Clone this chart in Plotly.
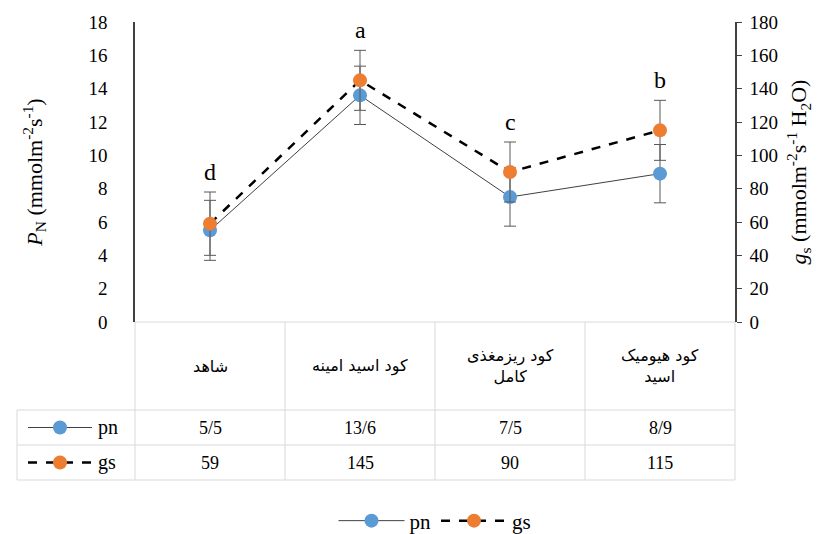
import plotly.graph_objects as go

categories = ["شاهد", "کود اسید امینه", "کود ریزمغذی<br>کامل", "کود هیومیک<br>اسید"]
pn_values = [5.5, 13.6, 7.5, 8.9]
pn_err = [1.8, 1.75, 1.75, 1.75]
gs_values = [59, 145, 90, 115]
gs_err = [19, 18, 18, 18]
letters = ["d", "a", "c", "b"]
series_names = ["pn", "gs"]

BLUE = "#5B9BD5"
ORANGE = "#ED7D31"
GRID = "#d9d9d9"
FONT = "Liberation Serif"
FA_FONT = "DejaVu Sans"
xs = list(range(len(categories)))

fig = go.Figure()
fig.add_trace(go.Scatter(
    x=xs, y=pn_values, name=series_names[0], mode="lines+markers",
    line=dict(color="#404040", width=1),
    marker=dict(color=BLUE, size=14),
    error_y=dict(type="data", array=pn_err, color="#595959", thickness=1, width=6),
    yaxis="y"))
fig.add_trace(go.Scatter(
    x=xs, y=gs_values, name=series_names[1], mode="lines+markers",
    line=dict(color="black", width=2.5, dash="dash"),
    marker=dict(color=ORANGE, size=14),
    error_y=dict(type="data", array=gs_err, color="#595959", thickness=1, width=6),
    yaxis="y2"))

# significance letters
for i, (g, e, l) in enumerate(zip(gs_values, gs_err, letters)):
    fig.add_annotation(x=i, y=g + e, xref="x", yref="y2", text=l, showarrow=False,
                       yanchor="middle", yshift=20, font=dict(family=FONT, size=24, color="black"))

# table geometry in paper coords (screen pixels -> paper)
def py(p):
    return (322 - p) / 300.0
def px(p):
    return (p - 135) / 600.0

rows_y = [322, 410, 445, 480]
col_x = [135, 285, 435, 585, 735]
line = dict(color=GRID, width=1)
fig.add_shape(type="line", xref="paper", yref="paper", x0=px(135), x1=px(735), y0=py(322), y1=py(322), line=line)
for ry in rows_y[1:]:
    fig.add_shape(type="line", xref="paper", yref="paper", x0=px(17), x1=px(735), y0=py(ry), y1=py(ry), line=line)
for cx in col_x:
    fig.add_shape(type="line", xref="paper", yref="paper", x0=px(cx), x1=px(cx), y0=py(322), y1=py(480), line=line)
fig.add_shape(type="line", xref="paper", yref="paper", x0=px(17), x1=px(17), y0=py(410), y1=py(480), line=line)

# header text
for i, c in enumerate(categories):
    fig.add_annotation(x=i, y=py(366), xref="x", yref="paper", text=c, showarrow=False,
                       yanchor="middle", xanchor="center",
                       font=dict(family=FA_FONT, size=16, color="black"), align="center")

# value rows
def fmt(v):
    return ("%g" % v).replace(".", "/")

row_centers = [py(427.5), py(462.5)]
for r, (vals, name, col, dash) in enumerate([(pn_values, "pn", BLUE, "solid"), (gs_values, "gs", ORANGE, "dash")]):
    for i, v in enumerate(vals):
        fig.add_annotation(x=i, y=row_centers[r], xref="x", yref="paper", text=fmt(v), showarrow=False,
                           yanchor="middle", xanchor="center",
                           font=dict(family=FONT, size=18, color="black"))
    fig.add_shape(type="line", xref="paper", yref="paper", x0=px(28), x1=px(92), y0=row_centers[r], y1=row_centers[r],
                  line=dict(color="#404040" if r == 0 else "black", width=1 if r == 0 else 2.5, dash=dash))
    fig.add_shape(type="circle", xref="paper", yref="paper", x0=px(53), x1=px(67),
                  y0=row_centers[r] - 7 / 300, y1=row_centers[r] + 7 / 300,
                  fillcolor=col, line=dict(color=col, width=0))
    fig.add_annotation(x=px(96), y=row_centers[r], xref="paper", yref="paper", text=name, showarrow=False,
                       xanchor="left", yanchor="middle", font=dict(family=FONT, size=20, color="black"))

# page body has an 8px margin: shrink figure so plot area lands at x 135-735, y 22-322
fig.update_layout(
    width=823, height=526,
    margin=dict(l=127, r=96, t=14, b=212, autoexpand=False),
    paper_bgcolor="white", plot_bgcolor="white",
    font=dict(family=FONT, size=18, color="black"),
    showlegend=True,
    legend=dict(orientation="h", x=0.5, xanchor="center", y=py(521), yanchor="middle",
                font=dict(family=FONT, size=21, color="black"), itemwidth=66),
    xaxis=dict(range=[-0.5, 3.5], showticklabels=False, showgrid=False, zeroline=False,
               showline=False, ticks="", automargin=False),
    yaxis=dict(range=[0, 18], dtick=2, showgrid=False, zeroline=False, showline=True, automargin=False,
               linecolor="#404040", linewidth=1.5, ticks="", ticklabelstandoff=22,
               tickfont=dict(family=FONT, size=19),
               title=dict(text="<i>P</i><sub>N</sub> (mmolm<sup>-2</sup>s<sup>-1</sup>)",
                          font=dict(family=FONT, size=22), standoff=40)),
    yaxis2=dict(range=[0, 180], dtick=20, overlaying="y", side="right", showgrid=False, zeroline=False,
                showline=True, linecolor="#404040", linewidth=1.5, ticks="outside", ticklen=5, automargin=False,
                tickcolor="#404040", ticklabelstandoff=4, tickfont=dict(family=FONT, size=19),
                title=dict(text="<i>g</i><sub>s</sub> (mmolm<sup>-2</sup>s<sup>-1</sup> H<sub>2</sub>O)",
                           font=dict(family=FONT, size=22), standoff=14)),
)

fig.write_html("out.html")
